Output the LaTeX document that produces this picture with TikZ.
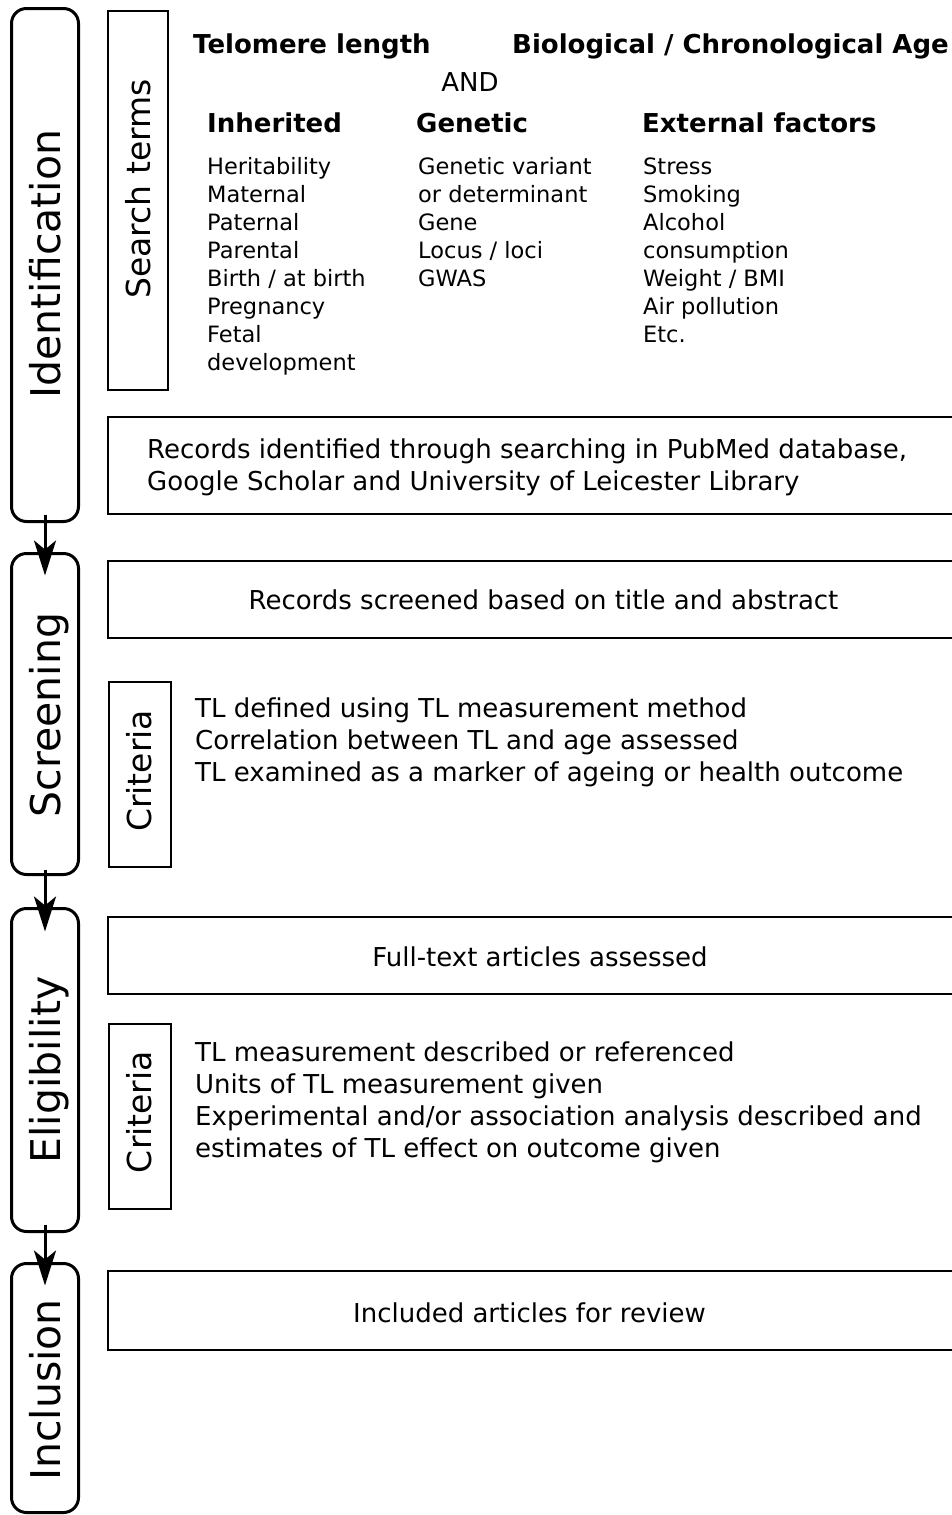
\documentclass[tikz,border=0pt]{standalone}
\usepackage{fontspec}
\setmainfont{DejaVu Sans}
\usetikzlibrary{arrows.meta}
\begin{document}
\begin{tikzpicture}[x=1pt,y=-1pt,
 phase/.style={draw, line width=3pt, rounded corners=15pt, minimum width=67pt, inner sep=0},
 box/.style={draw, line width=2pt, inner sep=0},
 body/.style={font=\fontsize{26}{32}\selectfont, inner sep=0, align=left},
 term/.style={font=\fontsize{22.5}{28}\selectfont, inner sep=0, align=left, anchor=base west},
 head/.style={font=\fontsize{26}{32}\selectfont\bfseries, inner sep=0, anchor=base west},
 side/.style={font=\fontsize{33}{40}\selectfont, rotate=90, inner sep=0, text height=24pt, text depth=0pt},
 phlabel/.style={font=\fontsize{41}{48}\selectfont, rotate=90, inner sep=0, text height=30pt, text depth=0pt},
 flow/.style={line width=3pt, -{Stealth[length=35pt,width=22pt,inset=9pt]}}
]
\clip (0,0) rectangle (952,1515);
% phase boxes
\node[phase, minimum height=513pt] (ident) at (45,265) {};
\node[phase, minimum height=321pt] (screen) at (45,714) {};
\node[phase, minimum height=323pt] (elig) at (45,1070) {};
\node[phase, minimum height=249pt] (incl) at (45,1388) {};
\node[phlabel] (identL) at (45,264) {Identification};
\node[phlabel] (screenL) at (45,715) {Screening};
\node[phlabel] (eligL) at (45,1070) {Eligibility};
\node[phlabel] (inclL) at (45,1390) {Inclusion};
\draw[flow] ([yshift=8.5pt]ident.south) -- ([yshift=-23.5pt]screen.north);
\draw[flow] ([yshift=6.5pt]screen.south) -- ([yshift=-24.5pt]elig.north);
\draw[flow] ([yshift=8.5pt]elig.south) -- ([yshift=-23.5pt]incl.north);
% search terms
\node[box, minimum width=60pt, minimum height=379pt] (stbox) at (138,200.5) {};
\node[side] (stL) at (138,189) {Search terms};
\node[head] (tl) at (193,53) {Telomere length};
\node[head] (bca) at (512,53) {Biological / Chronological Age};
\node[body, anchor=base] (and) at (470,91) {AND};
\node[head] (hinh) at (207,132) {Inherited};
\node[head] (hgen) at (416,132) {Genetic};
\node[head] (hext) at (642,132) {External factors};
\node[term] (tinh) at (207,370) {Heritability\\Maternal\\Paternal\\Parental\\Birth / at birth\\Pregnancy\\Fetal\\development};
\node[term] (tgen) at (418,286) {Genetic variant\\or determinant\\Gene\\Locus / loci\\GWAS};
\node[term] (text) at (643,342) {Stress\\Smoking\\Alcohol\\consumption\\Weight / BMI\\Air pollution\\Etc.};
% records identified
\node[box, minimum width=992pt, minimum height=97pt] (recid) at (604,465.5) {};
\node[body, anchor=base west] (recidT) at (147,490) {Records identified through searching in PubMed database,\\Google Scholar and University of Leicester Library};
% screening
\node[box, minimum width=992pt, minimum height=77pt] (recsc) at (604,599.5) {};
\node[body, anchor=base] (recscT) at (543.5,609) {Records screened based on title and abstract};
\node[box, minimum width=62pt, minimum height=185pt] (crit1) at (139.5,774.5) {};
\node[side] (crit1L) at (139.5,771) {Criteria};
\node[body, anchor=base west] (crit1T) at (195,781) {TL defined using TL measurement method\\Correlation between TL and age assessed\\TL examined as a marker of ageing or health outcome};
% eligibility
\node[box, minimum width=992pt, minimum height=77pt] (full) at (604,955.5) {};
\node[body, anchor=base] (fullT) at (540,966) {Full-text articles assessed};
\node[box, minimum width=62pt, minimum height=185pt] (crit2) at (139.5,1116.5) {};
\node[side] (crit2L) at (139.5,1112) {Criteria};
\node[body, anchor=base west] (crit2T) at (195,1157) {TL measurement described or referenced\\Units of TL measurement given\\Experimental and/or association analysis described and\\estimates of TL effect on outcome given};
% inclusion
\node[box, minimum width=992pt, minimum height=79pt] (inc) at (604,1310.5) {};
\node[body, anchor=base] (incT) at (529.5,1322) {Included articles for review};
\end{tikzpicture}
\end{document}
